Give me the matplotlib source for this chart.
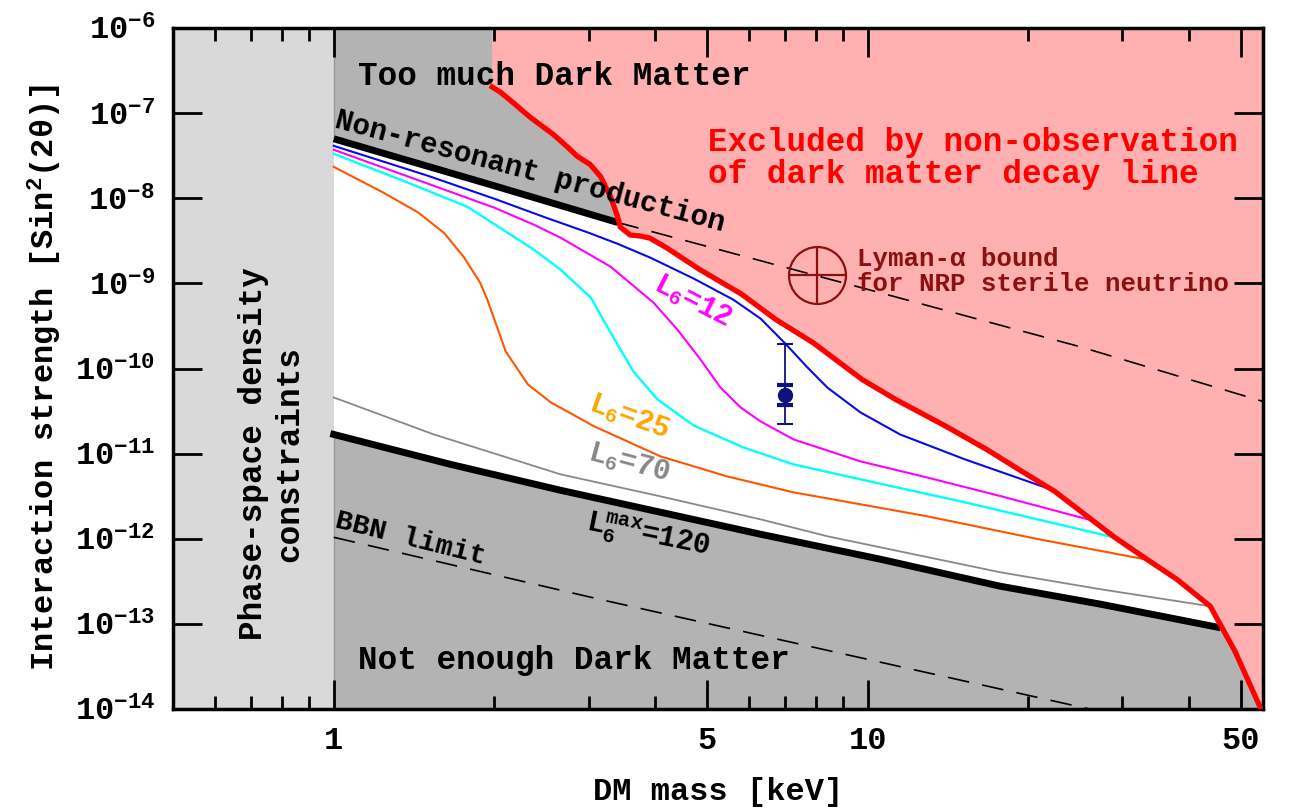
import numpy as np
import matplotlib
matplotlib.use("Agg")
import matplotlib.pyplot as plt
from matplotlib.ticker import NullFormatter, NullLocator

plt.rcParams['font.family'] = ['Liberation Mono', 'DejaVu Sans']
plt.rcParams['font.weight'] = 'bold'
plt.rcParams['axes.labelweight'] = 'bold'
plt.rcParams['mathtext.default'] = 'regular'

# DM mass [keV] vs sin^2(2 theta)

# X-ray exclusion boundary (red)
red_x = [1.98, 2.05, 2.17, 2.33, 2.58, 2.74, 2.86, 3.02, 3.16, 3.30, 3.40, 3.44,
         3.59, 3.75, 3.91, 4.21, 4.85, 5.8, 6.73, 7.91, 9.77, 11.3, 14.0, 16.7,
         19.6, 22.4, 29.0, 33.3, 37.9, 43.8, 48.7, 54.5]
red_y = [2.03e-7, 1.77e-7, 1.32e-7, 9.0e-8, 5.6e-8, 4.0e-8, 3.1e-8, 2.5e-8, 1.8e-8,
         1.04e-8, 6.1e-9, 4.6e-9, 3.7e-9, 3.6e-9, 3.4e-9, 2.6e-9, 1.45e-9, 7.5e-10,
         3.76e-10, 2.0e-10, 7.4e-11, 4.3e-11, 2.1e-11, 1.12e-11, 6.0e-12, 3.6e-12,
         1.04e-12, 5.75e-13, 3.35e-13, 1.61e-13, 4.8e-14, 1.0e-14]

# non-resonant production (solid up to the red line, dashed beyond)
nrp_x = [1.0, 2.0, 3.4, 10.0, 25.0, 55.0]
nrp_y = [5.0e-8, 1.4e-8, 5.2e-9, 8.5e-10, 1.8e-10, 4.1e-11]

# L6 max = 120
lmax_x = [1.0, 1.655, 2.66, 4.09, 6.30, 10.56, 17.7, 27.2, 45.1]
lmax_y = [1.68e-11, 7.48e-12, 3.71e-12, 2.05e-12, 1.13e-12, 5.75e-13, 2.77e-13,
          1.71e-13, 9.16e-14]

# L6 = 70
l70_x = [1.0, 1.54, 2.66, 4.09, 6.30, 8.40, 17.7, 27.2, 43.8]
l70_y = [4.57e-11, 1.68e-11, 5.71e-12, 3.15e-12, 1.69e-12, 1.07e-12, 4.04e-13,
         2.56e-13, 1.61e-13]

# L6 = 25
l25_x = [1.0, 1.24, 1.44, 1.61, 1.75, 1.88, 1.94, 2.10, 2.31, 2.55, 3.07, 4.09,
         5.45, 7.26, 9.69, 12.9, 20.9, 33.0]
l25_y = [2.34e-8, 1.16e-8, 6.8e-9, 3.9e-9, 2.06e-9, 1.02e-9, 6.4e-10, 1.58e-10,
         6.5e-11, 4.0e-11, 2.1e-11, 9.3e-12, 5.41e-12, 3.51e-12, 2.54e-12,
         1.84e-12, 9.87e-13, 5.75e-13]

# cyan curve
cy_x = [1.0, 1.335, 1.78, 2.37, 2.66, 3.03, 3.30, 3.64, 4.04, 4.72, 5.85, 7.26,
        9.69, 15.2, 28.9]
cy_y = [3.33e-8, 1.65e-8, 7.94e-9, 2.49e-9, 1.45e-9, 6.81e-10, 2.64e-10, 9.22e-11,
        4.33e-11, 2.14e-11, 1.18e-11, 7.48e-12, 4.99e-12, 2.68e-12, 1.04e-12]

# L6 = 12 (magenta)
l12_x = [1.0, 1.54, 2.0, 2.37, 2.66, 3.30, 3.97, 4.40, 4.86, 5.30, 5.78, 6.30,
         7.26, 9.69, 12.9, 17.8, 26.7]
l12_y = [3.71e-8, 1.40e-8, 7.74e-9, 4.89e-9, 3.44e-9, 1.57e-9, 5.94e-10, 2.87e-10,
         1.28e-10, 5.98e-11, 3.49e-11, 2.39e-11, 1.47e-11, 8.11e-12, 5.26e-12,
         3.15e-12, 1.60e-12]

# blue curve
bl_x = [1.0, 1.50, 2.00, 2.50, 3.00, 3.40, 3.92, 4.72, 5.60, 6.30, 7.01, 7.71,
        8.40, 9.69, 11.5, 15.2, 22.0]
bl_y = [4.13e-8, 1.84e-8, 9.86e-9, 5.90e-9, 3.94e-9, 2.92e-9, 2.0e-9, 1.14e-9,
        6.44e-10, 3.86e-10, 1.96e-10, 1.03e-10, 5.98e-11, 3.05e-11, 1.68e-11,
        8.57e-12, 3.81e-12]

# BBN limit
bbn_x = [1.0, 3.14, 26.0]
bbn_y = [1.04e-12, 1.95e-13, 1.0e-14]

# 3.5 keV line point with error bars
pt_x = 7.0
pt_y = 4.95e-11
pt_lo, pt_hi = 2.2e-11, 1.96e-10
pt_lo_in, pt_hi_in = 3.68e-11, 6.48e-11

# Lyman-alpha bound for NRP
ly_x, ly_y = 8.04, 1.27e-9

x_major = [1, 5, 10, 50]
x_major_labels = ['1', '5', '10', '50']
x_minor = [0.6, 0.7, 0.8, 0.9, 2, 3, 4, 6, 7, 8, 9, 20, 30, 40]
y_major = [1e-14, 1e-13, 1e-12, 1e-11, 1e-10, 1e-9, 1e-8, 1e-7, 1e-6]

fig = plt.figure(figsize=(12.92, 8.10), dpi=100)
ax = fig.add_axes([0.1339, 0.1247, 0.8437, 0.8407])
ax.set_xscale('log')
ax.set_yscale('log')
ax.set_xlim(0.5, 55)
ax.set_ylim(1e-14, 1e-6)

# regions
ax.set_facecolor('#b3b3b3')
ax.axvspan(0.5, 1.0, color='#d9d9d9', lw=0, zorder=0.5)
ax.axvline(1.0, color='#999999', lw=1.0, zorder=0.6)
ax.fill(np.r_[nrp_x, lmax_x[::-1]], np.r_[nrp_y, lmax_y[::-1]],
        color='white', lw=0, zorder=0.7)
ax.fill([red_x[0]] + red_x + [55, 55], [1e-6] + red_y + [1e-14, 1e-6],
        color='#ffb0b0', lw=0, zorder=0.8)

# curves
ax.plot(bl_x, bl_y, color='#0a0ae6', lw=1.5)
ax.plot(l12_x, l12_y, color='#ff00ff', lw=1.5)
ax.plot(cy_x, cy_y, color='#00ffff', lw=1.7)
ax.plot(l25_x, l25_y, color='#ff5500', lw=1.5)
ax.plot(l70_x, l70_y, color='#888888', lw=1.3)
ax.plot(lmax_x, lmax_y, color='black', lw=5)
ax.plot(nrp_x[:3], nrp_y[:3], color='black', lw=5, solid_capstyle='butt')
ax.plot(nrp_x[2:], nrp_y[2:], color='black', lw=1.2, ls=(0, (13, 8)))
ax.plot(bbn_x, bbn_y, color='black', lw=1.2, ls=(0, (13, 8)))
ax.plot(red_x, red_y, color='#ff0000', lw=3.8, zorder=3)

# data point
navy = '#10107f'
ax.errorbar([pt_x], [pt_y], yerr=[[pt_y - pt_lo], [pt_hi - pt_y]], fmt='none',
            ecolor=navy, elinewidth=1.3, capsize=5.5, capthick=1.5, zorder=4)
ax.errorbar([pt_x], [pt_y], yerr=[[pt_y - pt_lo_in], [pt_hi_in - pt_y]], fmt='o',
            color=navy, ms=10, elinewidth=1.3, capsize=5.5, capthick=3, zorder=4)

# Lyman-alpha marker
dred = '#8b1010'
ax.plot([ly_x], [ly_y], marker='o', ms=41, mfc='none', mec=dred, mew=1.6, zorder=4)
ax.plot([ly_x], [ly_y], marker='+', ms=41, mec=dred, mew=1.6, zorder=4)

# axes styling
ax.set_axisbelow(False)
for s in ax.spines.values():
    s.set_linewidth(2.5)
ax.set_xticks(x_major, labels=x_major_labels)
ax.set_xticks(x_minor, minor=True)
ax.xaxis.set_minor_formatter(NullFormatter())
ax.set_yticks(y_major)
ax.yaxis.set_minor_locator(NullLocator())
ax.tick_params(which='both', direction='in', top=True, right=True, width=2,
               labelsize=23)
ax.tick_params(which='major', length=21)
ax.tick_params(which='minor', length=9.5)
ax.tick_params(axis='x', pad=12)
ax.tick_params(axis='y', pad=13)

ax.set_xlabel('DM mass [keV]', fontsize=23, fontweight='bold')
ax.xaxis.set_label_coords(0.5, -0.1)
ax.set_ylabel('Interaction strength [Sin$^2$(2θ)]', fontsize=23, fontweight='bold')
ax.yaxis.set_label_coords(-0.1, 0.486)

# annotations
ax.text(1.109, 2.14e-7, 'Too much Dark Matter', fontsize=23.5, va='baseline')
ax.text(1.109, 2.94e-14, 'Not enough Dark Matter', fontsize=23.5, va='baseline')
ax.text(5.03, 3.64e-8, 'Excluded by non-observation', fontsize=23.5,
        color='#ff0000', va='baseline')
ax.text(5.03, 1.52e-8, 'of dark matter decay line', fontsize=23.5,
        color='#ff0000', va='baseline')
ax.text(9.56, 1.58e-9, 'Lyman-α bound', fontsize=18.5, fontweight='semibold',
        color='#8b1010', va='baseline')
ax.text(9.56, 8.07e-10, 'for NRP sterile neutrino', fontsize=18.5,
        fontweight='semibold', color='#8b1010', va='baseline')
ax.text(0.765, 1.0e-11, 'Phase-space density\nconstraints', fontsize=23.5,
        rotation=90, ha='center', va='center', multialignment='center')

rot = dict(rotation_mode='anchor', ha='left', va='baseline')
ax.text(1.0, 6.77e-8, 'Non-resonant production', fontsize=21, rotation=-15, **rot)
ax.text(3.95, 8.6e-10, 'L$_6$=12', fontsize=21, color='#ff00ff', rotation=-27, **rot)
ax.text(2.99, 3.27e-11, 'L$_6$=25', fontsize=21, color='#ffa500', rotation=-20, **rot)
ax.text(2.98, 8.57e-12, 'L$_6$=70', fontsize=21, color='#888888', rotation=-15, **rot)
ax.text(2.96, 1.27e-12, 'L$_6^{max}$=120', fontsize=21, color='black', rotation=-11.5, **rot)
ax.text(1.0, 1.37e-12, 'BBN limit', fontsize=20.5, rotation=-14, **rot)

fig.savefig('out.png', dpi=100)
